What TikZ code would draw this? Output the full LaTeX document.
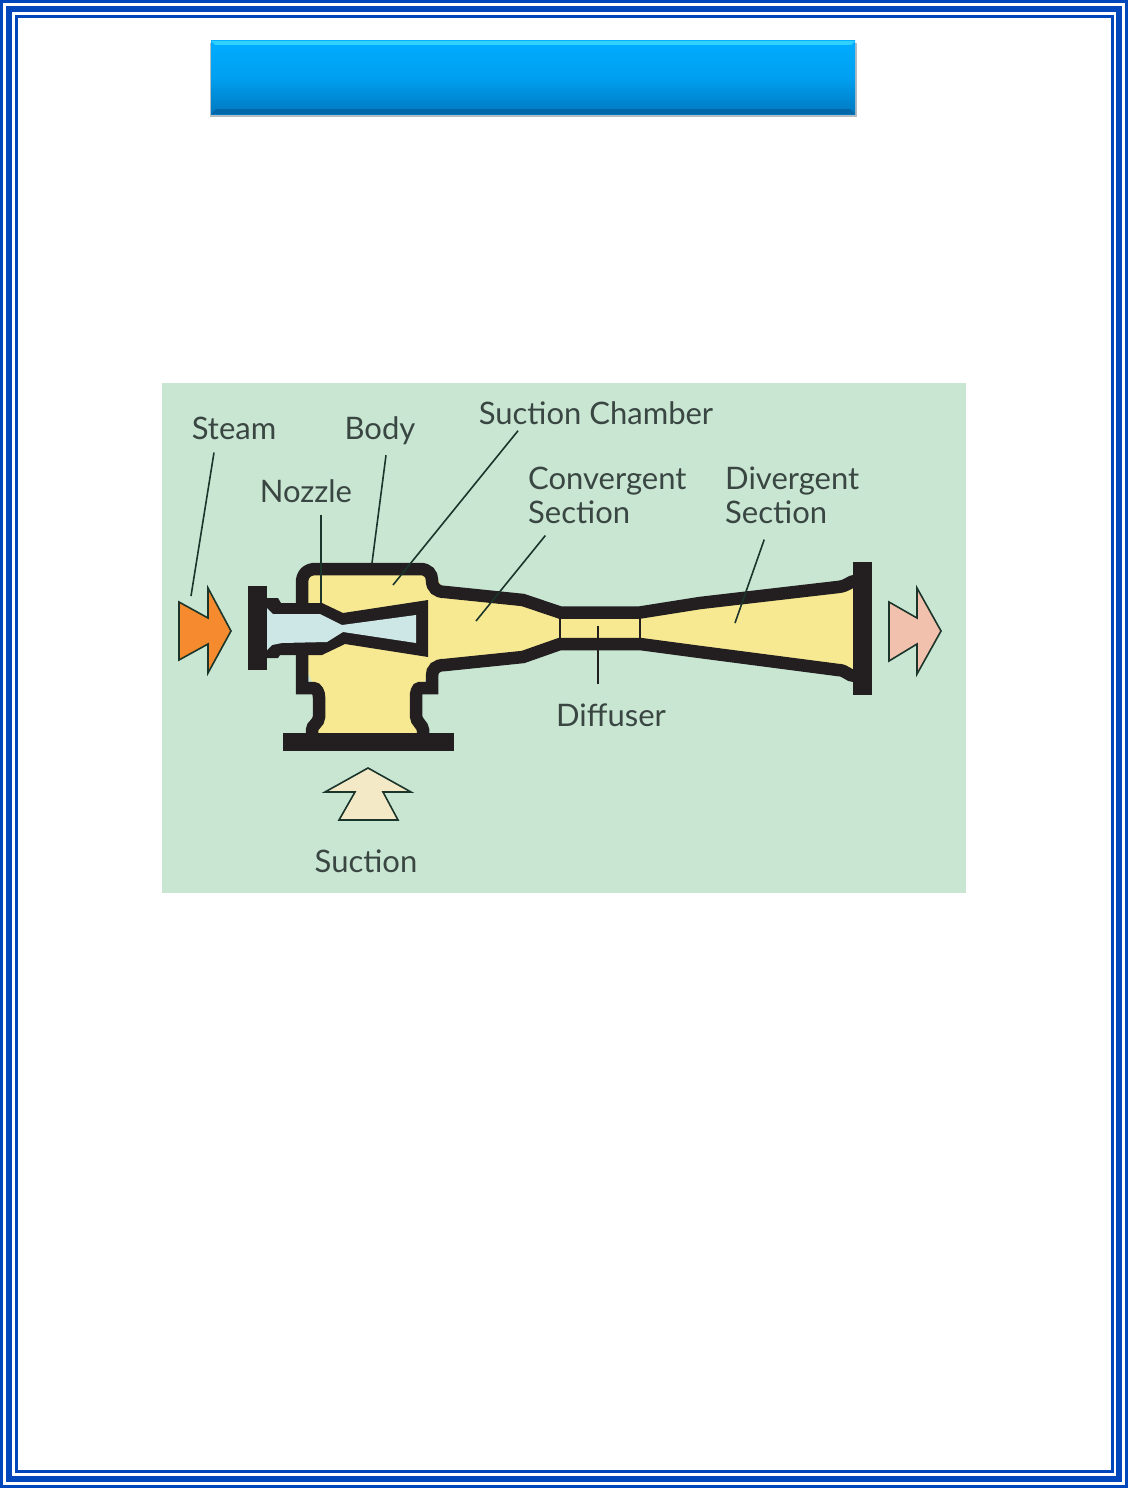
\documentclass[tikz,border=0pt]{standalone}
\usepackage{fontspec}
\setmainfont{Lato}
\tikzset{
	frameline/.style = {draw = frameblue},
	wall/.style = {draw = wallblack, line width = 12.5, line join = miter},
	leader/.style = {draw = leadergreen, line width = 1.6},
	flowarrow/.style = {draw = leadergreen, line width = 1.6, line join = miter},
	partlabel/.style = {inner sep = 0, text = labelgrey, font = \fontsize{31}{34}\selectfont, align = left}
}
\definecolor{frameblue}{HTML}{0047BB}
\definecolor{wallblack}{HTML}{231F20}
\definecolor{leadergreen}{HTML}{1B352B}
\definecolor{labelgrey}{HTML}{3A4642}
\definecolor{panelgreen}{HTML}{C9E6D3}
\definecolor{bodyyellow}{HTML}{F7E992}
\definecolor{nozzleblue}{HTML}{CDE6E6}
\definecolor{steamorange}{HTML}{F58B2E}
\definecolor{outletpink}{HTML}{F2C1AE}
\definecolor{suctioncream}{HTML}{F3E9C6}
\definecolor{headertop}{HTML}{00ACFF}
\definecolor{headermid}{HTML}{00A0F0}
\definecolor{headerbottom}{HTML}{0078C0}
\definecolor{headerlight}{HTML}{30D0FF}
\definecolor{headerdark}{HTML}{0068A8}
\definecolor{headershadow}{HTML}{B4BCC4}
\begin{document}
\begin{tikzpicture}[x = 1pt, y = -1pt]
	\useasboundingbox (0, 0) rectangle (1128, 1488);
	\fill[white] (0, 0) rectangle (1128, 1488);
	\draw[frameline, line width = 3] (1.5, 1.5) rectangle (1126.5, 1486.5);
	\draw[frameline, line width = 6] (9, 9) rectangle (1119, 1479);
	\draw[frameline, line width = 3] (16.5, 16.5) rectangle (1112.5, 1471.5);
	\fill[headershadow] (210, 43) rectangle (857, 117);
	\shade[top color = headertop, bottom color = headerbottom, middle color = headermid] (211, 41) rectangle (855, 114);
	\fill[headerlight] (211, 41)--(855, 41)--(851, 45)--(215, 45)--cycle;
	\fill[headerdark] (211, 114)--(855, 114)--(850, 109)--(216, 109)--cycle;
	\fill[panelgreen] (162, 383) rectangle (966, 893);
	\fill[bodyyellow] (302, 569)--(432, 569)--(445, 592)--(523, 600)--(560, 612)--(640, 612)--(843, 587)--(856, 580)--(856, 677)--(840, 670)--(640, 644)--(560, 644)--(523, 657)--(432, 668)--(416, 697)--(423, 735)--(312, 735)--(319, 697)--(302, 660)--cycle;
	\draw[wall] (302, 605)--(302, 583) .. controls (302, 574) and (307, 569) .. (316, 569)--(420, 569) .. controls (428, 569) and (432, 574) .. (432, 580) .. controls (432, 588) and (437, 592) .. (445, 592)--(523, 600)--(560, 612.5)--(640, 612.5)--(700, 603)--(838, 587) .. controls (848, 586) and (850, 581) .. (855, 581);
	\draw[wall] (855, 676) .. controls (848, 676) and (846, 670) .. (838, 670)--(700, 652)--(640, 644)--(560, 644)--(523, 657)--(445, 665) .. controls (436, 665) and (432, 669) .. (432, 676)--(432, 688)--(420, 688) .. controls (417, 688) and (416, 693) .. (416, 697)--(416, 716) .. controls (416, 722) and (423, 725) .. (423, 730)--(423, 736);
	\draw[wall] (302, 650)--(302, 688)--(313, 688) .. controls (317, 688) and (319, 693) .. (319, 697)--(319, 717) .. controls (319, 723) and (312, 725) .. (312, 730)--(312, 736);
	\draw[draw = wallblack, line width = 2.2] (560, 612)--(560, 644);
	\draw[draw = wallblack, line width = 2.2] (640, 612)--(640, 644);
	\fill[wallblack] (267, 598)--(278, 598)--(281, 603)--(322, 603)--(343, 613)--(428, 600)--(428, 657)--(345, 644)--(322, 655)--(280, 655)--(278, 658)--(267, 658)--cycle;
	\fill[nozzleblue] (267, 608)--(273, 614)--(320, 614)--(342, 625)--(416, 615)--(416, 643)--(343, 632)--(327, 642)--(282, 643)--(272, 645)--(267, 650)--cycle;
	\fill[wallblack] (248, 586) rectangle (267, 670);
	\fill[wallblack] (283, 733) rectangle (454, 751);
	\fill[wallblack] (853, 562) rectangle (872, 695);
	\draw[flowarrow, fill = steamorange] (179, 602)--(208, 618)--(208, 588)--(231, 631)--(208, 673)--(208, 644)--(179, 660)--cycle;
	\draw[flowarrow, fill = outletpink] (889, 602)--(917, 618)--(917, 588)--(941, 631)--(917, 674)--(917, 644)--(889, 661)--cycle;
	\draw[flowarrow, fill = suctioncream] (368, 768)--(411, 792)--(383, 792)--(398, 820)--(339, 820)--(355, 792)--(325, 792)--cycle;
	\node[partlabel] (steamlabel) at (234, 428) {Steam};
	\node[partlabel] (bodylabel) at (380, 431) {Body};
	\node[partlabel] (nozzlelabel) at (306, 491) {Nozzle};
	\node[partlabel] (chamberlabel) at (596, 413) {Suction Chamber};
	\node[partlabel, anchor = west] (convergentlabel) at (528, 495) {Convergent\\Section};
	\node[partlabel, anchor = west] (divergentlabel) at (725, 495) {Divergent\\Section};
	\node[partlabel] (diffuserlabel) at (611, 715) {Diffuser};
	\node[partlabel] (suctionlabel) at (366, 861) {Suction};
	\coordinate (steamtip) at (191, 596);
	\coordinate (bodytip) at (372, 563);
	\coordinate (nozzletip) at (321, 603);
	\coordinate (chambertip) at (393, 585);
	\coordinate (convergenttip) at (476, 621);
	\coordinate (divergenttip) at (735, 623);
	\coordinate (diffusertip) at (598, 626);
	\draw[leader] ([shift = {(-20, 13)}]steamlabel.south)--(steamtip);
	\draw[leader] ([shift = {(6, 10)}]bodylabel.south)--(bodytip);
	\draw[leader] ([shift = {(15, 12)}]nozzlelabel.south)--(nozzletip);
	\draw[leader] ([shift = {(-78, 6)}]chamberlabel.south)--(chambertip);
	\draw[leader] ([shift = {(-62, 12)}]convergentlabel.south)--(convergenttip);
	\draw[leader] ([shift = {(-28, 16)}]divergentlabel.south)--(divergenttip);
	\draw[draw = wallblack, line width = 2] ([shift = {(-13, -19)}]diffuserlabel.north)--(diffusertip);
\end{tikzpicture}
\end{document}
